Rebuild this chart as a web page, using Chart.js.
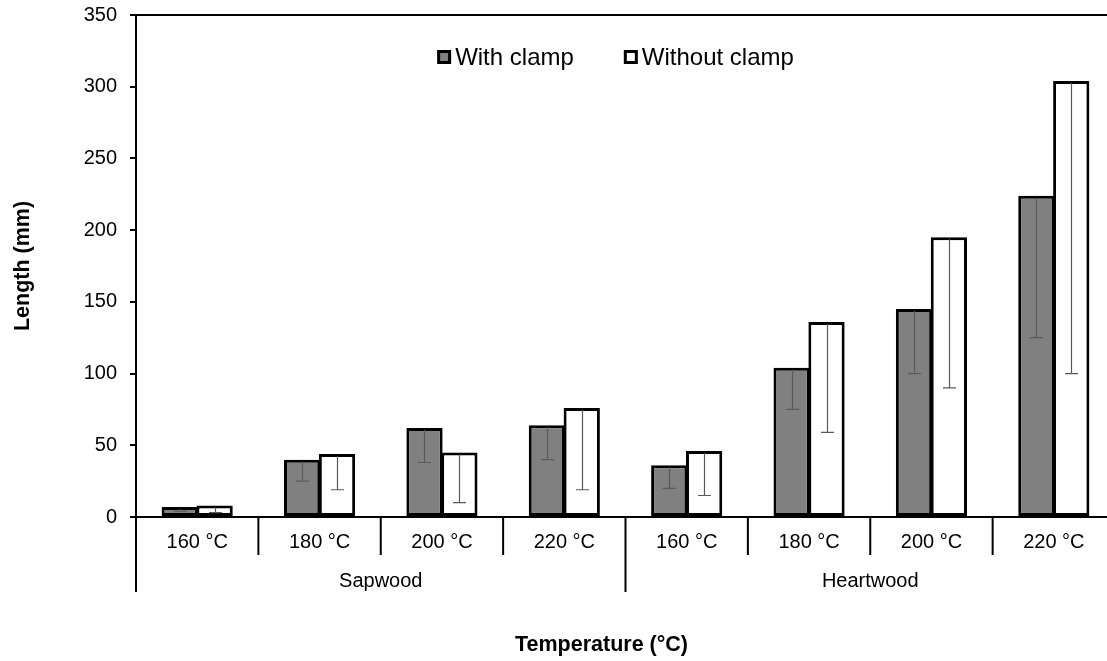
<!DOCTYPE html>
<html>
<head>
<meta charset="utf-8">
<script src="https://cdn.jsdelivr.net/npm/chart.js@4.4.0/dist/chart.umd.min.js"></script>
<style>
html,body{margin:0;padding:0;background:#fff;overflow:hidden;}
#wrap{width:1125px;height:661px;}
</style>
</head>
<body>
<div id="wrap"><canvas id="c" width="1125" height="661"></canvas></div>
<script>
// ---- data ----
const categories = ['160 °C','180 °C','200 °C','220 °C','160 °C','180 °C','200 °C','220 °C'];
const groupLabels = ['Sapwood','Heartwood'];
const seriesNames = ['With clamp','Without clamp'];
const withClamp = [7, 40, 62, 64, 36, 104, 145, 224];
const withoutClamp = [8, 44, 45, 76, 46, 136, 195, 304];
const withClampLower = [4, 25, 38, 40, 20, 75, 100, 125];
const withoutClampLower = [3, 19, 10, 19, 15, 59, 90, 100];
const yMin = 0, yMax = 350, yStep = 50;
const xTitle = 'Temperature (°C)';
const yTitle = 'Length (mm)';

const FONT = '"Liberation Sans", Arial, sans-serif';
const lowers = [withClampLower, withoutClampLower];
const fills = ['#808080', '#ffffff'];

const errorBars = {
  id: 'errorBars',
  afterDatasetsDraw(chart) {
    const ctx = chart.ctx, ys = chart.scales.y;
    ctx.save();
    ctx.strokeStyle = '#5a5a5a';
    ctx.lineWidth = 1.2;
    chart.data.datasets.forEach((ds, di) => {
      const meta = chart.getDatasetMeta(di);
      meta.data.forEach((bar, j) => {
        const x = Math.round(bar.x) + 0.5;
        const yTop = ys.getPixelForValue(ds.data[j]) + 2;
        const yLow = ys.getPixelForValue(lowers[di][j]);
        ctx.beginPath();
        ctx.moveTo(x, yTop); ctx.lineTo(x, yLow);
        ctx.moveTo(x - 6.5, yLow); ctx.lineTo(x + 6.5, yLow);
        ctx.stroke();
      });
    });
    ctx.restore();
  }
};

const decorations = {
  id: 'decorations',
  afterDraw(chart) {
    const ctx = chart.ctx, xs = chart.scales.x, a = chart.chartArea;
    const n = categories.length;
    const step = (a.right - a.left) / n;
    ctx.save();
    ctx.strokeStyle = '#000';
    ctx.lineWidth = 2;
    // category boundaries
    for (let i = 0; i <= n; i++) {
      const xb = i < n ? xs.getPixelForValue(i) - step / 2 : xs.getPixelForValue(n - 1) + step / 2;
      const isGroup = (i % 4 === 0);
      ctx.beginPath();
      ctx.moveTo(xb, a.bottom);
      ctx.lineTo(xb, a.bottom + (isGroup ? 75 : 38));
      ctx.stroke();
    }
    // group labels
    ctx.fillStyle = '#000';
    ctx.font = '20px ' + FONT;
    ctx.textAlign = 'center';
    ctx.textBaseline = 'middle';
    groupLabels.forEach((g, gi) => {
      const x0 = xs.getPixelForValue(gi * 4) - step / 2;
      const x1 = xs.getPixelForValue(gi * 4 + 3) + step / 2;
      ctx.fillText(g, (x0 + x1) / 2, a.bottom + 64);
    });
    // x axis title
    ctx.font = 'bold 21.5px ' + FONT;
    ctx.fillText(xTitle, (a.left + a.right) / 2 - 24, a.bottom + 128);
    // legend
    ctx.font = '24px ' + FONT;
    ctx.textAlign = 'left';
    const box = 14, gap = 4, spacing = 50;
    const widths = seriesNames.map(s => ctx.measureText(s).width);
    const total = box + gap + widths[0] + spacing + box + gap + widths[1];
    let x = (a.left + a.right) / 2 - 10 - total / 2;
    const yc = 57;
    seriesNames.forEach((s, i) => {
      ctx.fillStyle = '#000';
      ctx.fillRect(x, yc - box / 2, box, box);
      ctx.fillStyle = fills[i];
      ctx.fillRect(x + 3, yc - box / 2 + 3, box - 6, box - 6);
      ctx.fillStyle = '#000';
      ctx.fillText(s, x + box + gap, yc + 1);
      x += box + gap + widths[i] + spacing;
    });
    ctx.restore();
  }
};

new Chart(document.getElementById('c'), {
  type: 'bar',
  data: {
    labels: categories,
    datasets: [
      { label: seriesNames[0], data: withClamp, backgroundColor: fills[0], borderColor: '#000', borderWidth: 3, borderSkipped: false },
      { label: seriesNames[1], data: withoutClamp, backgroundColor: fills[1], borderColor: '#000', borderWidth: 3, borderSkipped: false }
    ]
  },
  options: {
    responsive: false,
    animation: false,
    devicePixelRatio: 1,
    datasets: { bar: { categoryPercentage: 0.57, barPercentage: 1.04 } },
    layout: { padding: { top: 15, right: 10, bottom: 0, left: 0 } },
    plugins: { legend: { display: false }, tooltip: { enabled: false } },
    scales: {
      x: {
        offset: true,
        grid: { display: false, drawTicks: false },
        border: { display: true, color: '#000', width: 2 },
        ticks: { color: '#000', font: { family: FONT, size: 20 }, padding: 13, maxRotation: 0, autoSkip: false },
        title: { display: false, text: xTitle },
        afterFit(s) { s.height = 144; s.paddingLeft = 0; s.paddingRight = 0; }
      },
      y: {
        min: yMin, max: yMax,
        ticks: { stepSize: yStep, color: '#000', font: { family: FONT, size: 20 }, padding: 13 },
        grid: {
          drawOnChartArea: true,
          color: (c) => (c.tick && c.tick.value === yMax) ? '#000' : 'rgba(0,0,0,0)',
          lineWidth: 2,
          tickColor: '#000',
          tickLength: 6
        },
        border: { display: true, color: '#000', width: 2 },
        title: { display: true, text: yTitle, color: '#000', font: { family: FONT, size: 21.5, weight: 'bold' }, padding: { top: 10, bottom: 0 } },
        afterFit(s) { s.width = 136; s.paddingTop = 0; s.paddingBottom = 0; }
      }
    }
  },
  plugins: [errorBars, decorations]
});
</script>
</body>
</html>
